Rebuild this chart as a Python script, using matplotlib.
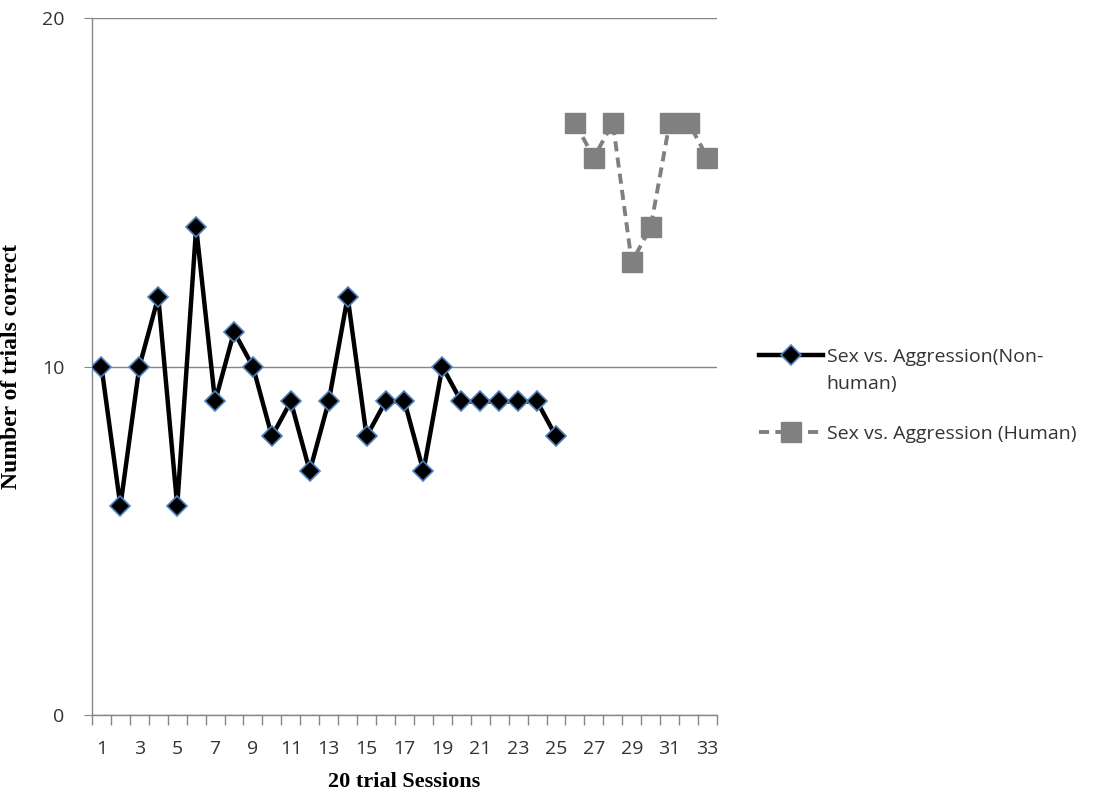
import matplotlib
matplotlib.use('Agg')
import matplotlib.pyplot as plt

# Data
sessions_nonhuman = list(range(1, 26))
correct_nonhuman = [10, 6, 10, 12, 6, 14, 9, 11, 10, 8, 9, 7, 9, 12, 8, 9, 9, 7, 10, 9, 9, 9, 9, 9, 8]
sessions_human = list(range(26, 34))
correct_human = [17, 16, 17, 13, 14, 17, 17, 16]
xtick_labels = [str(i) for i in range(1, 34, 2)]

fig = plt.figure(figsize=(11.03, 7.95), dpi=100)
ax = fig.add_axes([0.0834, 0.1006, 0.5666, 0.8764])

ax.plot(sessions_nonhuman, correct_nonhuman, color='black', lw=3.2,
        marker='D', markersize=10, markerfacecolor='black',
        markeredgecolor='#4f81bd', markeredgewidth=1.2,
        label='Sex vs. Aggression(Non-', zorder=3)
ax.plot(sessions_human, correct_human, color='#808080', lw=2.8,
        linestyle=(0, (2.6, 1.6)), marker='s', markersize=14,
        markerfacecolor='#808080', markeredgecolor='#808080',
        label='Sex vs. Aggression (Human)', zorder=3)

ax.set_xlim(0.5, 33.5)
ax.set_ylim(0, 20)
ax.set_yticks([0, 10, 20])
ax.yaxis.grid(True, color='#868686', lw=1)
ax.set_axisbelow(True)

# category axis: labels at every other category, ticks at boundaries
ax.set_xticks(range(1, 34, 2))
ax.set_xticklabels(xtick_labels)
ax.set_xticks([i + 0.5 for i in range(0, 34)], minor=True)
ax.tick_params(axis='x', which='major', length=0, pad=18, labelsize=14, colors='#333333')
ax.tick_params(axis='x', which='minor', length=7, color='#868686', width=1)
ax.tick_params(axis='y', length=6, color='#868686', labelsize=14, pad=14, labelcolor='#333333')
for lab in ax.get_xticklabels() + ax.get_yticklabels():
    lab.set_fontfamily('Open Sans')

for s in ['top', 'right']:
    ax.spines[s].set_visible(False)
for s in ['left', 'bottom']:
    ax.spines[s].set_color('#868686')
    ax.spines[s].set_linewidth(1)

ax.set_xlabel('20 trial Sessions', fontfamily='Liberation Serif', fontweight='bold',
              fontsize=16, labelpad=10)
ax.set_ylabel('Number of trials correct', fontfamily='Liberation Serif', fontweight='bold',
              fontsize=17, labelpad=14)

# legend: first label wraps onto a second line, as in the original
leg = fig.legend(loc='upper left', bbox_to_anchor=(0.672, 0.584), frameon=False,
                 prop={'family': 'Open Sans', 'size': 14}, handlelength=3.3,
                 handletextpad=0.2, labelspacing=3.0, labelcolor='#333333')
fig.canvas.draw()
first = leg.get_texts()[0]
bb = first.get_window_extent().transformed(fig.transFigure.inverted())
fig.text(bb.x0, bb.y0 - 0.011, 'human)', ha='left', va='top',
         fontfamily='Open Sans', fontsize=14, color='#333333')

fig.savefig('out.png', dpi=100)
